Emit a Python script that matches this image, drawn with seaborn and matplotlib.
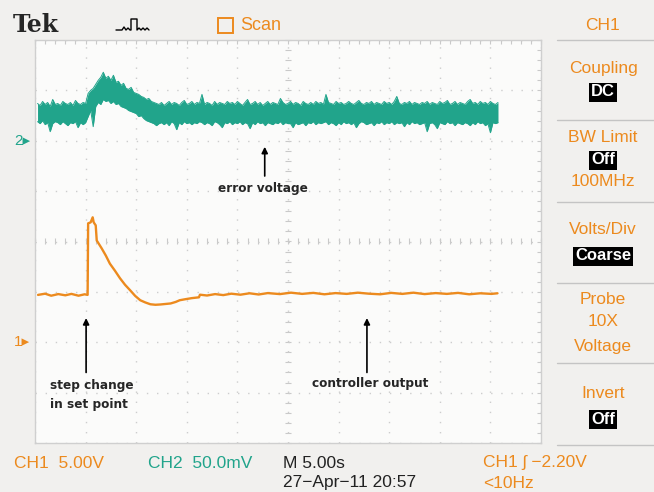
import numpy as np
import pandas as pd
import seaborn as sns
import matplotlib.pyplot as plt
from matplotlib.lines import Line2D
from matplotlib.patches import Rectangle
from matplotlib.ticker import MultipleLocator, NullFormatter

# scope settings
time_div = 5.0      # s/div, 10 divisions across
ch1_div = 5.0       # V/div, CH1 ground 2 div above bottom
ch2_div = 50.0      # mV/div, CH2 ground 6 div above bottom

# CH2 error voltage (mV): top and bottom edge of the noisy trace, every 0.25 s
t2 = np.arange(0.25, 45.8, 0.25)
ch2_hi = [37, 35, 39, 36, 38, 34, 41, 36, 37, 35, 39, 37, 36, 38, 35, 40, 37, 36, 38, 37,
          47, 50, 52, 56, 60, 63, 68, 62, 64, 60, 65, 58, 59, 55, 57, 52, 51, 53, 48, 47,
          46, 44, 43, 41, 42, 39, 38, 37,
          36, 38, 35, 37, 39, 36, 38, 37, 35, 38, 40, 36, 37, 39, 36,
          38, 37, 46, 36, 38, 37, 35, 39, 36, 38, 37, 36, 39, 37, 38,
          36, 39, 37, 35, 38, 41, 36, 37, 39, 36, 38, 35, 37, 39, 36,
          38, 37, 36, 42, 38, 36, 37, 39, 36, 38, 37, 35, 39, 37, 36,
          38, 36, 39, 37, 38, 36, 46, 38, 37, 36, 39, 37, 38, 36, 37,
          39, 37, 36, 38, 40, 37, 36, 38, 37, 39, 36, 38, 37, 36, 39,
          37, 38, 36, 39, 44, 37, 36, 38, 37, 39, 36, 38, 37, 36, 38,
          37, 39, 36, 38, 37, 36, 39, 37, 38, 40, 36, 37, 39, 36, 38,
          37, 36, 39, 41, 37, 38, 36, 39, 37, 38, 36, 39, 37, 36, 38]
ch2_lo = [19, 17, 20, 16, 18, 9, 17, 19, 18, 16, 19, 17, 15, 18, 17, 19, 13, 18, 16, 18,
          24, 30, 14, 34, 38, 36, 41, 39, 40, 37, 39, 36, 37, 34, 33, 32, 30, 29, 28, 27,
          24, 25, 22, 20, 19, 18, 17, 15,
          17, 18, 16, 18, 15, 19, 17, 11, 18, 16, 19, 17, 18, 16, 18,
          17, 19, 18, 16, 18, 17, 15, 19, 18, 16, 13, 18, 17, 19, 16,
          18, 17, 19, 16, 18, 17, 12, 18, 16, 19, 17, 18, 15, 18, 17,
          16, 18, 17, 19, 16, 18, 17, 17, 13, 18, 16, 17, 18, 15, 18,
          17, 19, 16, 18, 17, 18, 19, 16, 18, 17, 15, 18, 16, 19, 17,
          18, 16, 18, 13, 17, 19, 18, 16, 17, 18, 15, 18, 17, 19, 16,
          18, 17, 19, 16, 18, 17, 18, 14, 18, 16, 19, 17, 18, 16, 17,
          18, 9, 17, 18, 16, 12, 18, 17, 16, 19, 17, 18, 15, 18, 17,
          16, 18, 17, 15, 18, 16, 19, 17, 18, 15, 17, 8, 18, 17, 18]

# CH1 controller output (V)
t1 = [0.3, 1.0, 1.6, 2.3, 3.0, 3.6, 4.3, 4.9, 5.2, 5.25,
      5.5, 5.7, 5.8, 6.0, 6.1, 6.6, 7.0, 7.4, 7.9, 8.4,
      8.9, 9.4, 9.9, 10.4, 10.9, 11.4, 11.9, 12.4, 12.9, 13.4,
      13.9, 14.3, 14.9, 15.5, 16.2, 16.3, 17.0, 17.8, 18.6, 19.4,
      20.3, 21.2, 22.1, 23.0, 24.2, 25.3, 26.4, 27.5, 28.6, 29.7,
      30.8, 31.9, 33.0, 34.1, 35.2, 36.3, 37.4, 38.5, 39.6, 40.7,
      41.8, 42.9, 44.0, 45.1, 45.7]
ch1 = [4.7, 4.82, 4.62, 4.78, 4.66, 4.8, 4.62, 4.76, 4.7, 11.8,
       11.9, 12.4, 11.9, 11.6, 10.1, 9.3, 8.6, 7.8, 7.1, 6.35,
       5.7, 5.16, 4.6, 4.17, 3.95, 3.77, 3.72, 3.75, 3.8, 3.85,
       4.0, 4.17, 4.28, 4.38, 4.46, 4.72, 4.64, 4.78, 4.68, 4.82,
       4.72, 4.86, 4.74, 4.88, 4.78, 4.92, 4.8, 4.9, 4.76, 4.88,
       4.8, 4.92, 4.82, 4.76, 4.9, 4.8, 4.92, 4.78, 4.88, 4.8,
       4.9, 4.76, 4.86, 4.8, 4.86]

orange = '#ec8a1e'
green = '#21a48b'
grey = '#c9c9c9'
scope_font = ['Liberation Sans', 'DejaVu Sans']

df2 = pd.DataFrame({'t': t2,
                    'hi': 6 + np.array(ch2_hi) / ch2_div,
                    'lo': 6 + np.array(ch2_lo) / ch2_div})
df1 = pd.DataFrame({'t': t1, 'v': 2 + np.array(ch1) / ch1_div})

sns.set_style('white')
plt.rcParams['font.family'] = ['DejaVu Sans']

fig = plt.figure(figsize=(6.54, 4.92), dpi=100, facecolor='#f1f0ee')
ax = fig.add_axes([35 / 654, 1 - 443 / 492, 506 / 654, 403 / 492])
ax.set_facecolor('#fbfbfa')

# traces
ax.fill_between(df2['t'], df2['lo'], df2['hi'], color=green, lw=0)
sns.lineplot(data=df2, x='t', y='hi', ax=ax, color=green, lw=0.7)
sns.lineplot(data=df2, x='t', y='lo', ax=ax, color=green, lw=0.7)
sns.lineplot(data=df1, x='t', y='v', ax=ax, color=orange, lw=1.7)

# graticule
ax.set_xlim(0, 10 * time_div)
ax.set_ylim(0, 8)
ax.set_xticks(np.arange(0, 10 * time_div + 1, time_div))
ax.set_yticks(np.arange(0, 9, 1))
ax.xaxis.set_minor_locator(MultipleLocator(time_div / 5))
ax.yaxis.set_minor_locator(MultipleLocator(0.2))
ax.grid(True, which='major', color='#cdcdcd', lw=1.0, ls=(0, (1, 6.29)))
ax.tick_params(which='both', direction='in', length=3, width=0.8, color=grey,
               top=True, right=True, labelbottom=False, labelleft=False)
ax.set_xlabel('')
ax.set_ylabel('')
for s in ax.spines.values():
    s.set_color('#cfcfcf')
    s.set_linewidth(1.0)

# centre cross with small ticks
sx = ax.secondary_xaxis(0.5)
sx.xaxis.set_major_locator(MultipleLocator(time_div / 5))
sx.xaxis.set_major_formatter(NullFormatter())
sx.tick_params(direction='inout', length=4.5, width=0.8, color=grey,
               labeltop=False, labelbottom=False)
for s in sx.spines.values():
    s.set_visible(False)
sy = ax.secondary_yaxis(0.5)
sy.yaxis.set_major_locator(MultipleLocator(0.2))
sy.yaxis.set_major_formatter(NullFormatter())
sy.tick_params(direction='inout', length=4.5, width=0.8, color=grey,
               labelleft=False, labelright=False)
for s in sy.spines.values():
    s.set_visible(False)

# annotations
arrow = dict(arrowstyle='-|>', color='black', lw=1.2, mutation_scale=9, shrinkA=0, shrinkB=0)
ax.annotate('', xy=(22.7, 5.88), xytext=(22.7, 5.30), arrowprops=arrow)
ax.text(22.5, 5.06, 'error voltage', ha='center', va='center', fontsize=8.7, fontweight='bold')
ax.annotate('', xy=(5.05, 2.48), xytext=(5.05, 1.40), arrowprops=arrow)
ax.text(1.5, 0.96, 'step change\nin set point', ha='left', va='center', fontsize=8.7,
        fontweight='bold', linespacing=1.6)
ax.annotate('', xy=(32.8, 2.48), xytext=(32.8, 1.40), arrowprops=arrow)
ax.text(33.1, 1.18, 'controller output', ha='center', va='center', fontsize=8.7, fontweight='bold')


def px(x, y):
    return x / 654, 1 - y / 492


# channel ground markers
fig.text(*px(14, 141), '2▸', color=green, fontsize=11, va='center', family=scope_font)
fig.text(*px(14, 342), '1▸', color=orange, fontsize=11, va='center', family=scope_font)

# top bar
fig.text(*px(13, 25), 'Tek', fontsize=17, fontweight='bold', family='DejaVu Serif', va='center')
icon_x = [116, 122, 124, 126, 128, 130, 131, 131, 137, 137, 139, 141, 143, 145, 147, 149]
icon_y = [30, 30, 27, 30, 28, 30, 30, 19, 19, 30, 28, 30, 28, 30, 28, 30]
fig.add_artist(Line2D([x / 654 for x in icon_x], [1 - y / 492 for y in icon_y],
                      color='black', lw=1.0, transform=fig.transFigure))
fig.add_artist(Rectangle(px(218, 33), 15 / 654, 15 / 492, fill=False, ec=orange, lw=1.4,
                         transform=fig.transFigure))
fig.text(*px(240, 25), 'Scan', fontsize=13, color=orange, va='center', family=scope_font)

# right menu
fig.text(*px(603, 25), 'CH1', fontsize=12.5, color=orange, ha='center', va='center', family=scope_font)
for y in [40, 120, 202, 283, 363, 445]:
    fig.add_artist(Line2D([557 / 654, 1.0], [1 - y / 492] * 2, color='#c4c4c4', lw=1.0,
                          transform=fig.transFigure))
menu = [('Coupling', 68), ('BW Limit', 137), ('100MHz', 182), ('Volts/Div', 229),
        ('Probe', 299), ('10X', 322), ('Voltage', 346), ('Invert', 393)]
for label, y in menu:
    fig.text(*px(603, y), label, fontsize=12.5, color=orange, ha='center', va='center',
             family=scope_font)
boxes = [('DC', 92), ('Off', 160), ('Coarse', 256), ('Off', 419)]
for label, y in boxes:
    fig.text(*px(603, y), label, fontsize=12, color='white', ha='center', va='center',
             family=scope_font, fontweight='bold',
             bbox=dict(boxstyle='square,pad=0.12', fc='black', ec='none'))

# bottom status line
fig.text(*px(14, 463), 'CH1  5.00V', fontsize=12.5, color=orange, va='center', family=scope_font)
fig.text(*px(148, 463), 'CH2  50.0mV', fontsize=12.5, color=green, va='center', family=scope_font)
fig.text(*px(283, 463), 'M 5.00s', fontsize=12.5, color='#222222', va='center', family=scope_font)
fig.text(*px(283, 483), '27−Apr−11 20:57', fontsize=12.5, color='#222222', va='center',
         family=scope_font)
fig.text(*px(483, 463), 'CH1 ʃ −2.20V', fontsize=12.5, color=orange, va='center', family=scope_font)
fig.text(*px(483, 483), '<10Hz', fontsize=12.5, color=orange, va='center', family=scope_font)

fig.savefig('out.png', dpi=100, facecolor=fig.get_facecolor())
